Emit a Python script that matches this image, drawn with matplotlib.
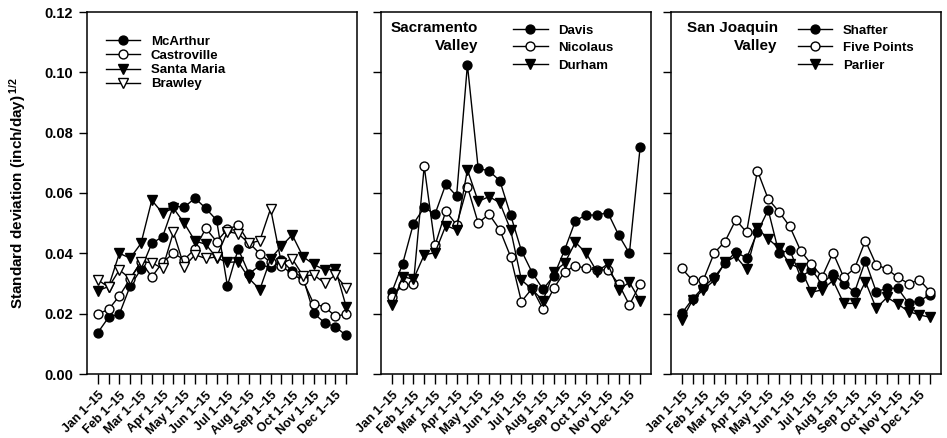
import matplotlib
matplotlib.use("Agg")
import matplotlib.pyplot as plt
import numpy as np

plt.rcParams["font.family"] = ["Liberation Sans", "DejaVu Sans"]
plt.rcParams["font.weight"] = "bold"
plt.rcParams["mathtext.fontset"] = "custom"
plt.rcParams["mathtext.rm"] = "Liberation Sans:bold"
plt.rcParams["mathtext.bf"] = "Liberation Sans:bold"
plt.rcParams["mathtext.default"] = "bf"

# semi-monthly periods (Jan 1-15, Jan 16-31, ...), labels on the 1-15 halves
months = ["Jan", "Feb", "Mar", "Apr", "May", "Jun",
          "Jul", "Aug", "Sep", "Oct", "Nov", "Dec"]
tick_labels = [f"{m} 1\u201315" for m in months]

# Coastal / other stations
mcarthur = [0.0137, 0.0188, 0.0199, 0.0292, 0.0347, 0.0433, 0.0455, 0.0557,
            0.0553, 0.0583, 0.0549, 0.0510, 0.0292, 0.0415, 0.0332, 0.0360,
            0.0355, 0.0378, 0.0340, 0.0320, 0.0201, 0.0170, 0.0156, 0.0128]
castroville = [0.0199, 0.0214, 0.0259, 0.0315, 0.0372, 0.0322, 0.0370, 0.0400,
               0.0379, 0.0415, 0.0483, 0.0439, 0.0480, 0.0493, 0.0435, 0.0399,
               0.0370, 0.0358, 0.0332, 0.0310, 0.0232, 0.0223, 0.0191, 0.0199]
santa_maria = [0.0276, 0.0290, 0.0400, 0.0384, 0.0433, 0.0576, 0.0533, 0.0550,
               0.0500, 0.0441, 0.0430, 0.0385, 0.0370, 0.0372, 0.0317, 0.0280,
               0.0382, 0.0424, 0.0461, 0.0389, 0.0363, 0.0345, 0.0348, 0.0223]
brawley = [0.0312, 0.0288, 0.0345, 0.0316, 0.0372, 0.0369, 0.0350, 0.0470,
           0.0356, 0.0395, 0.0383, 0.0388, 0.0472, 0.0465, 0.0433, 0.0442,
           0.0548, 0.0367, 0.0382, 0.0326, 0.0328, 0.0302, 0.0328, 0.0286]

# Sacramento Valley
davis = [0.0271, 0.0365, 0.0498, 0.0552, 0.0530, 0.0629, 0.0590, 0.1025,
         0.0682, 0.0673, 0.0641, 0.0527, 0.0409, 0.0336, 0.0281, 0.0325,
         0.0411, 0.0508, 0.0527, 0.0527, 0.0535, 0.0461, 0.0400, 0.0754]
nicolaus = [0.0255, 0.0295, 0.0298, 0.0688, 0.0426, 0.0540, 0.0494, 0.0621,
            0.0500, 0.0530, 0.0478, 0.0389, 0.0240, 0.0284, 0.0215, 0.0284,
            0.0339, 0.0359, 0.0350, 0.0345, 0.0345, 0.0299, 0.0229, 0.0299]
durham = [0.0229, 0.0323, 0.0314, 0.0395, 0.0402, 0.0492, 0.0478, 0.0677,
          0.0572, 0.0588, 0.0568, 0.0478, 0.0312, 0.0280, 0.0243, 0.0339,
          0.0367, 0.0437, 0.0400, 0.0339, 0.0365, 0.0279, 0.0304, 0.0242]

# San Joaquin Valley
shafter = [0.0201, 0.0249, 0.0288, 0.0320, 0.0367, 0.0405, 0.0384, 0.0470,
           0.0544, 0.0400, 0.0411, 0.0322, 0.0345, 0.0300, 0.0332, 0.0300,
           0.0272, 0.0375, 0.0273, 0.0284, 0.0284, 0.0234, 0.0243, 0.0262]
five_points = [0.0350, 0.0310, 0.0312, 0.0401, 0.0439, 0.0511, 0.0470, 0.0674,
               0.0580, 0.0538, 0.0489, 0.0409, 0.0363, 0.0323, 0.0402, 0.0320,
               0.0350, 0.0442, 0.0362, 0.0348, 0.0320, 0.0300, 0.0312, 0.0273]
parlier = [0.0179, 0.0245, 0.0280, 0.0310, 0.0370, 0.0390, 0.0347, 0.0483,
           0.0448, 0.0417, 0.0365, 0.0350, 0.0271, 0.0279, 0.0310, 0.0234,
           0.0234, 0.0306, 0.0218, 0.0254, 0.0232, 0.0207, 0.0196, 0.0188]

# (title, [(name, values, marker, fill)], legend anchor, label spacing)
panels = [
    (None, [("McArthur", mcarthur, "o", "black"),
            ("Castroville", castroville, "o", "white"),
            ("Santa Maria", santa_maria, "v", "black"),
            ("Brawley", brawley, "v", "white")],
     (0.07, 0.935), 0.15),
    ("Sacramento\nValley", [("Davis", davis, "o", "black"),
                            ("Nicolaus", nicolaus, "o", "white"),
                            ("Durham", durham, "v", "black")],
     (0.49, 0.966), 0.4),
    ("San Joaquin\nValley", [("Shafter", shafter, "o", "black"),
                             ("Five Points", five_points, "o", "white"),
                             ("Parlier", parlier, "v", "black")],
     (0.47, 0.966), 0.4),
]
title_x = [None, 0.36, 0.395]

fig = plt.figure(figsize=(9.47, 4.38), dpi=100, facecolor="white")
lefts = [87 / 947, 381 / 947, 671 / 947]
W, B, H = 270 / 947, 64 / 438, 362 / 438

x = np.arange(24)
for i, (title, series, leg_pos, lspace) in enumerate(panels):
    ax = fig.add_axes([lefts[i], B, W, H])
    for name, vals, mk, fc in series:
        ax.plot(x, vals, color="black", linewidth=1.0, marker=mk,
                markersize=6.4 if mk == "o" else 7.2, markerfacecolor=fc,
                markeredgecolor="black", markeredgewidth=1.0, label=name)
    ax.set_xlim(-1, 24)
    ax.set_ylim(0, 0.12)
    ax.set_yticks(np.arange(0, 0.121, 0.02))
    ax.set_xticks(x)
    ax.set_xticklabels([tick_labels[k // 2] if k % 2 == 0 else "" for k in x],
                       rotation=45, ha="right", rotation_mode="anchor",
                       fontsize=9, fontweight="bold")
    ax.tick_params(axis="x", length=7, width=1.0, direction="out", pad=4)
    ax.tick_params(axis="y", length=6, width=1.0, direction="out", pad=4,
                   labelsize=10.5)
    for s in ax.spines.values():
        s.set_linewidth(1.1)
    if i == 0:
        ax.set_yticklabels([f"{v:.2f}" for v in np.arange(0, 0.121, 0.02)],
                           fontweight="bold")
        ax.set_ylabel("Standard deviation (inch/day)$^{\\,1/2}$",
                      fontsize=11, fontweight="bold")
        ax.yaxis.set_label_coords(-0.22, 0.5)
    else:
        ax.set_yticklabels([])
        ax.text(title_x[i], 0.975, title, transform=ax.transAxes,
                ha="right", va="top", multialignment="right",
                fontsize=11, fontweight="bold", linespacing=1.4)
    ax.legend(loc="upper left", bbox_to_anchor=leg_pos, frameon=False,
              prop={"size": 9.5, "weight": "bold"}, handlelength=2.6,
              handletextpad=0.8, labelspacing=lspace, borderaxespad=0,
              borderpad=0)

fig.savefig("out.png", dpi=100, facecolor="white")
